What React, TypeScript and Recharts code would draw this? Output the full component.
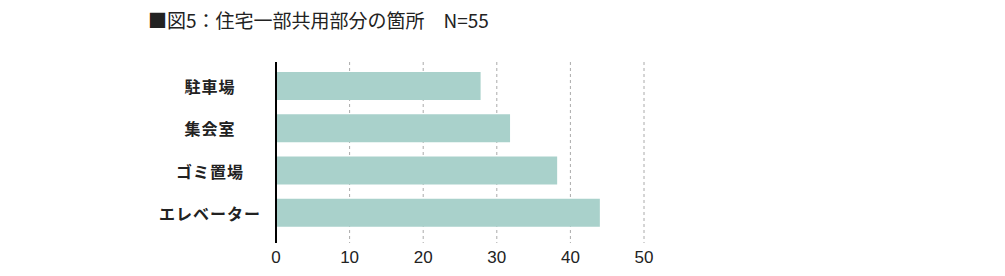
import { BarChart, Bar, XAxis, YAxis, CartesianGrid } from "recharts";

const categories = ["駐車場", "集会室", "ゴミ置場", "エレベーター"];
const counts = [27.8, 31.8, 38.2, 44.0];
const xTicks = [0, 10, 20, 30, 40, 50];

const chartData = categories.map((name, i) => ({ name, count: counts[i] }));

const CategoryTick = (props: any) => {
  const { y, payload } = props;
  return (
    <text
      x={210}
      y={y}
      textAnchor="middle"
      dominantBaseline="central"
      fontSize={16}
      fontWeight={700}
      letterSpacing={1}
      fill="#222"
      fontFamily="'Noto Sans CJK JP', sans-serif"
    >
      {payload.value}
    </text>
  );
};

const App = () => {
  return (
    <div style={{ position: "absolute", left: 0, top: 0, width: 1005, height: 276, background: "#fff" }}>
      <div
        style={{
          position: "absolute",
          left: 148,
          top: 10,
          fontSize: 19,
          lineHeight: "20px",
          color: "#222",
          fontFamily: "'Noto Sans CJK JP', sans-serif",
          whiteSpace: "pre",
        }}
      >
        ■図5：住宅一部共用部分の箇所　N=55
      </div>
      <BarChart
        width={1005}
        height={276}
        data={chartData}
        layout="vertical"
        margin={{ top: 62, right: 361, bottom: 3, left: 0 }}
        style={{ position: "absolute", left: 0, top: 0 }}
      >
        <CartesianGrid horizontal={false} stroke="#aaa" strokeDasharray="3 3" />
        <XAxis
          type="number"
          domain={[0, 50]}
          ticks={xTicks}
          axisLine={false}
          tickLine={false}
          height={30}
          tick={{ fontSize: 17, fill: "#222", fontFamily: "'Liberation Sans', Arial, sans-serif" }}
        />
        <YAxis
          type="category"
          dataKey="name"
          width={276}
          tickLine={false}
          axisLine={{ stroke: "#000", strokeWidth: 2 }}
          padding={{ top: 3, bottom: 9 }}
          tick={<CategoryTick />}
        />
        <Bar dataKey="count" fill="#a9d1cb" barSize={28} isAnimationActive={false} />
      </BarChart>
    </div>
  );
};

export default App;
